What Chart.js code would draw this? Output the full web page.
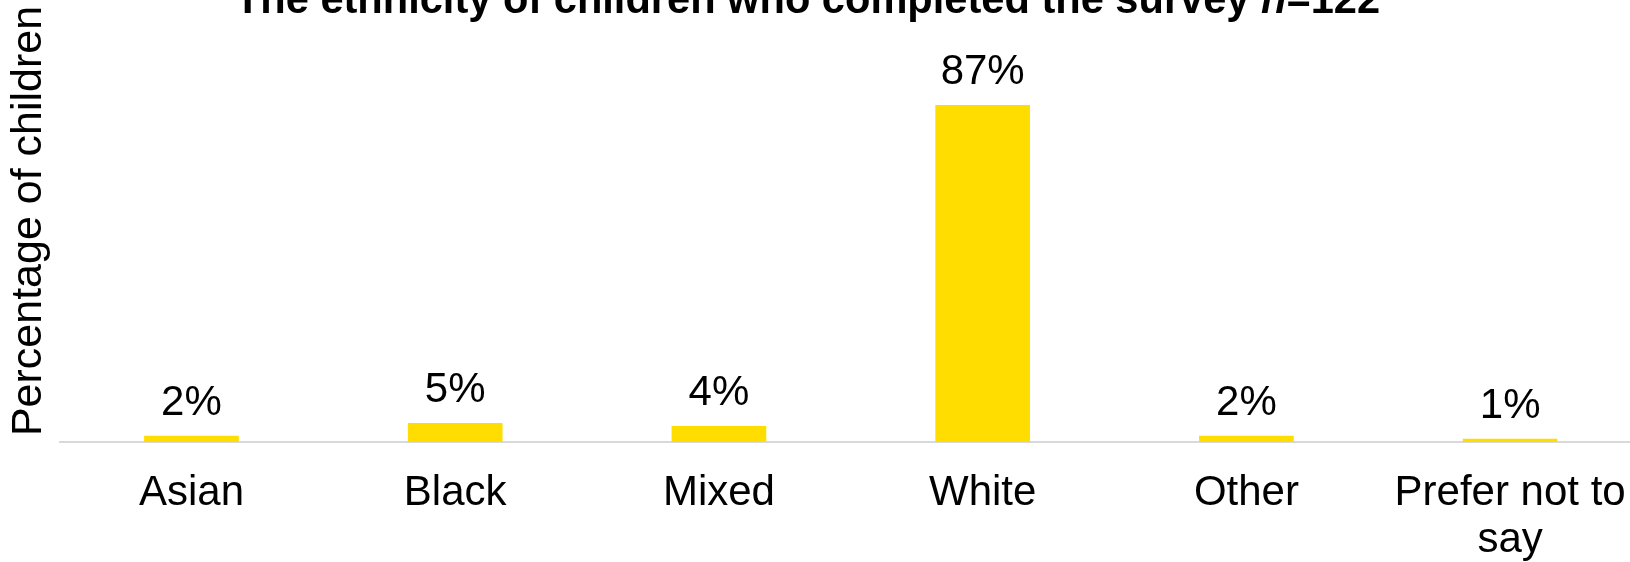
<!DOCTYPE html>
<html>
<head>
<meta charset="utf-8">
<title>Ethnicity of children</title>
<script src="https://cdn.jsdelivr.net/npm/chart.js@4.4.1/dist/chart.umd.min.js"></script>
<style>
  html, body { margin: 0; padding: 0; background: #fff; overflow: hidden; }
  #wrap { position: absolute; left: 0; top: 0; }
</style>
</head>
<body>
<div id="wrap">
  <canvas id="ethnicityChart" width="1645" height="592"></canvas>
</div>
<script>
const categories = ["Asian", "Black", "Mixed", "White", "Other", ["Prefer not to", "say"]];
const percentValues = [1.6, 4.9, 4.1, 86.9, 1.6, 0.8];
const valueLabels = ["2%", "5%", "4%", "87%", "2%", "1%"];
const titleMain = "The ethnicity of children who completed the survey ";
const titleItalic = "n";
const titleEnd = "=122";
const yAxisTitle = "Percentage of children";

const fontFamily = "'Liberation Sans', Arial, sans-serif";
const barColor = "rgb(255, 221, 0)";

// title with an italic n, drawn by hand since the built-in title can't mix styles
const titlePlugin = {
  id: "mixedTitle",
  afterDraw(chart) {
    const ctx = chart.ctx;
    const regular = "bold 41.6px " + fontFamily;
    const italic = "italic bold 41.6px " + fontFamily;
    ctx.save();
    ctx.fillStyle = "#000";
    ctx.textBaseline = "alphabetic";
    ctx.textAlign = "left";
    ctx.font = regular;
    const w1 = ctx.measureText(titleMain).width;
    const w3 = ctx.measureText(titleEnd).width;
    ctx.font = italic;
    const w2 = ctx.measureText(titleItalic).width;
    let x = 807.5 - (w1 + w2 + w3) / 2;
    const y = 13;
    ctx.font = regular;
    ctx.fillText(titleMain, x, y);
    x += w1;
    ctx.font = italic;
    ctx.fillText(titleItalic, x, y);
    x += w2;
    ctx.font = regular;
    ctx.fillText(titleEnd, x, y);
    ctx.restore();
  },
};

const valueLabelPlugin = {
  id: "valueLabels",
  afterDatasetsDraw(chart) {
    const ctx = chart.ctx;
    const meta = chart.getDatasetMeta(0);
    ctx.save();
    ctx.font = "42px " + fontFamily;
    ctx.fillStyle = "#000";
    ctx.textAlign = "center";
    ctx.textBaseline = "alphabetic";
    meta.data.forEach((bar, i) => {
      ctx.fillText(valueLabels[i], bar.x, bar.y - 21);
    });
    ctx.restore();
  },
};

const ctx = document.getElementById("ethnicityChart").getContext("2d");
new Chart(ctx, {
  type: "bar",
  data: {
    labels: categories,
    datasets: [
      {
        data: percentValues,
        backgroundColor: barColor,
        borderWidth: 0,
        barPercentage: 0.359,
        categoryPercentage: 1,
      },
    ],
  },
  options: {
    responsive: false,
    animation: false,
    devicePixelRatio: 1,
    layout: { padding: { top: 0, right: 3, bottom: 0, left: 0 } },
    plugins: {
      legend: { display: false },
      title: { display: false },
      tooltip: { enabled: false },
    },
    scales: {
      x: {
        grid: { display: false, drawTicks: false },
        border: { display: true, color: "#d9d9d9", width: 2 },
        ticks: {
          color: "#000",
          padding: 28,
          maxRotation: 0,
          autoSkip: false,
          font: { family: fontFamily, size: 42, lineHeight: 1.12 },
        },
        afterFit(scale) {
          scale.paddingLeft = 0;
          scale.paddingRight = 0;
        },
      },
      y: {
        min: 0,
        max: 114,
        grid: { display: false, drawTicks: false },
        border: { display: false },
        ticks: { display: false },
        title: {
          display: true,
          text: yAxisTitle,
          color: "#000",
          padding: { top: 3, bottom: 5 },
          font: { family: fontFamily, size: 43, lineHeight: 1.2 },
        },
      },
    },
  },
  plugins: [titlePlugin, valueLabelPlugin],
});
</script>
</body>
</html>
